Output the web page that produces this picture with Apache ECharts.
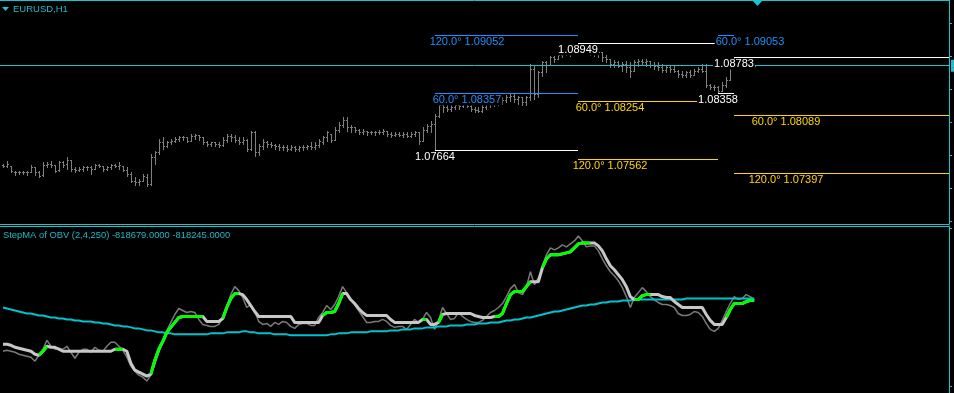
<!DOCTYPE html>
<html><head><meta charset="utf-8">
<script src="https://cdn.jsdelivr.net/npm/echarts@6/dist/echarts.min.js"></script>
<style>html,body{margin:0;padding:0;background:#000;overflow:hidden}#c{width:954px;height:393px}</style>
</head><body><div id="c"></div><script>
const symbolTitle = 'EURUSD,H1';
const indicatorTitle = 'StepMA of OBV (2,4,250) -818679.0000 -818245.0000';

const barOpen = [
1.0749,1.0748,1.0748,1.0741,1.0740,1.0741,1.0740,1.0741,1.0747,1.0740,
1.0737,1.0749,1.0750,1.0749,1.0743,1.0752,1.0750,1.0755,1.0744,1.0743,
1.0744,1.0746,1.0747,1.0744,1.0749,1.0748,1.0744,1.0747,1.0749,1.0748,
1.0748,1.0743,1.0738,1.0730,1.0728,1.0730,1.0735,1.0726,1.0759,1.0764,
1.0777,1.0772,1.0776,1.0778,1.0780,1.0782,1.0783,1.0778,1.0784,1.0785,
1.0782,1.0777,1.0774,1.0776,1.0774,1.0773,1.0779,1.0784,1.0782,1.0779,
1.0777,1.0779,1.0768,1.0788,1.0764,1.0772,1.0777,1.0774,1.0773,1.0772,
1.0770,1.0771,1.0768,1.0771,1.0768,1.0770,1.0771,1.0772,1.0771,1.0773,
1.0777,1.0782,1.0786,1.0779,1.0791,1.0797,1.0803,1.0794,1.0795,1.0791,
1.0789,1.0790,1.0788,1.0789,1.0788,1.0789,1.0790,1.0786,1.0785,1.0786,
1.0785,1.0786,1.0784,1.0786,1.0788,1.0778,1.0791,1.0796,1.0798,1.0808,
1.0821,1.0819,1.0816,1.0819,1.0821,1.0820,1.0822,1.0820,1.0816,1.0815,
1.0814,1.0818,1.0822,1.0824,1.0825,1.0826,1.0827,1.0831,1.0832,1.0828,
1.0830,1.0825,1.0830,1.0864,1.0834,1.0860,1.0872,1.0869,1.0878,1.0876,
1.0881,1.0884,1.0886,1.0884,1.0887,1.0891,1.0888,1.0886,1.0887,1.0882,
1.0885,1.0878,1.0876,1.0870,1.0873,1.0868,1.0870,1.0866,1.0862,1.0872,
1.0874,1.0872,1.0874,1.0869,1.0868,1.0867,1.0863,1.0867,1.0864,1.0862,
1.0858,1.0857,1.0860,1.0857,1.0862,1.0864,1.0862,1.0845,1.0843,1.0842,
1.0838,1.0845,1.0851,1.0872,1.0874,1.0870,1.0872,1.0869,1.0870];
const barHigh = [
1.0750,1.0754,1.0748,1.0742,1.0742,1.0742,1.0742,1.0749,1.0747,1.0742,
1.0752,1.0753,1.0754,1.0749,1.0754,1.0754,1.0758,1.0755,1.0747,1.0747,
1.0748,1.0748,1.0748,1.0750,1.0750,1.0748,1.0748,1.0750,1.0750,1.0752,
1.0748,1.0746,1.0740,1.0734,1.0732,1.0738,1.0738,1.0762,1.0766,1.0780,
1.0782,1.0778,1.0780,1.0783,1.0784,1.0784,1.0783,1.0786,1.0786,1.0785,
1.0782,1.0778,1.0777,1.0777,1.0777,1.0782,1.0786,1.0786,1.0785,1.0782,
1.0782,1.0780,1.0790,1.0790,1.0774,1.0780,1.0778,1.0777,1.0774,1.0774,
1.0773,1.0773,1.0773,1.0772,1.0772,1.0773,1.0773,1.0776,1.0776,1.0780,
1.0784,1.0790,1.0786,1.0794,1.0800,1.0806,1.0806,1.0797,1.0795,1.0792,
1.0792,1.0790,1.0790,1.0790,1.0791,1.0792,1.0790,1.0788,1.0788,1.0789,
1.0788,1.0789,1.0789,1.0790,1.0788,1.0794,1.0798,1.0802,1.0810,1.0824,
1.0826,1.0824,1.0821,1.0824,1.0824,1.0824,1.0825,1.0821,1.0819,1.0819,
1.0821,1.0825,1.0826,1.0827,1.0828,1.0830,1.0833,1.0834,1.0834,1.0832,
1.0831,1.0832,1.0870,1.0869,1.0862,1.0874,1.0874,1.0880,1.0880,1.0884,
1.0886,1.0890,1.0888,1.0890,1.08949,1.0892,1.0891,1.0890,1.0890,1.0887,
1.0885,1.0881,1.0876,1.0875,1.0874,1.0873,1.0874,1.0872,1.0875,1.0876,
1.0876,1.0876,1.0874,1.0872,1.0872,1.0870,1.0869,1.0869,1.0868,1.0863,
1.0862,1.0862,1.0863,1.0864,1.0867,1.0870,1.0870,1.0846,1.0845,1.0844,
1.0848,1.0854,1.0874,1.08783,1.0875,1.0874,1.0875,1.0873,1.0873];
const barLow = [
1.0747,1.0746,1.0741,1.0737,1.0738,1.0738,1.0737,1.0740,1.0737,1.0735,
1.0736,1.0746,1.0747,1.0740,1.0742,1.0747,1.0744,1.0742,1.0741,1.0742,
1.0742,1.0743,1.0738,1.0744,1.0746,1.0742,1.0743,1.0744,1.0746,1.0744,
1.0742,1.0736,1.0728,1.0725,1.0725,1.0730,1.0724,1.0725,1.0750,1.0762,
1.0768,1.0770,1.0774,1.0777,1.0778,1.0779,1.0776,1.0778,1.0780,1.0779,
1.0774,1.0772,1.0772,1.0772,1.0771,1.0772,1.0777,1.0778,1.0777,1.0774,
1.0774,1.0766,1.0767,1.0760,1.0761,1.0768,1.0770,1.0771,1.0768,1.0767,
1.0767,1.0766,1.0767,1.0766,1.0766,1.0767,1.0768,1.0768,1.0768,1.0770,
1.0774,1.0778,1.0776,1.0779,1.0788,1.0794,1.0790,1.0788,1.0789,1.0786,
1.0786,1.0785,1.0786,1.0785,1.0786,1.0786,1.0784,1.0783,1.0784,1.0784,
1.0783,1.0783,1.0783,1.0784,1.0774,1.0778,1.0789,1.0789,1.07664,1.0806,
1.0812,1.0814,1.0814,1.0816,1.0816,1.0818,1.0818,1.0814,1.0813,1.0812,
1.0813,1.0816,1.0819,1.0820,1.0821,1.0822,1.0824,1.0826,1.0825,1.0822,
1.0821,1.0821,1.0827,1.0828,1.0830,1.0856,1.0860,1.0869,1.0872,1.0876,
1.0878,1.0881,1.0880,1.0882,1.0884,1.0885,1.0882,1.0881,1.0880,1.0879,
1.0874,1.0872,1.0867,1.0866,1.0866,1.0862,1.0860,1.0854,1.0862,1.0868,
1.0869,1.0868,1.0867,1.0864,1.0863,1.0861,1.0860,1.0861,1.0860,1.0855,
1.0854,1.0855,1.0855,1.0857,1.0860,1.0860,1.0842,1.0840,1.0839,1.08358,
1.0838,1.0843,1.0851,1.0868,1.0867,1.0866,1.0867,1.0866,1.0867];
const barClose = [
1.0748,1.0750,1.0742,1.0740,1.0741,1.0740,1.0741,1.0747,1.0740,1.0736,
1.0749,1.0750,1.0749,1.0742,1.0752,1.0749,1.0755,1.0744,1.0743,1.0744,
1.0746,1.0747,1.0744,1.0749,1.0748,1.0744,1.0747,1.0749,1.0748,1.0749,
1.0743,1.0738,1.0730,1.0728,1.0730,1.0736,1.0726,1.0759,1.0764,1.0777,
1.0772,1.0776,1.0778,1.0780,1.0782,1.0783,1.0778,1.0784,1.0785,1.0782,
1.0777,1.0774,1.0776,1.0774,1.0773,1.0779,1.0784,1.0782,1.0779,1.0777,
1.0779,1.0768,1.0788,1.0764,1.0772,1.0777,1.0774,1.0773,1.0772,1.0770,
1.0771,1.0768,1.0771,1.0768,1.0770,1.0771,1.0772,1.0771,1.0773,1.0778,
1.0782,1.0788,1.0779,1.0791,1.0797,1.0803,1.0794,1.0795,1.0791,1.0789,
1.0790,1.0788,1.0789,1.0788,1.0789,1.0790,1.0786,1.0785,1.0786,1.0785,
1.0786,1.0784,1.0786,1.0788,1.0778,1.0791,1.0796,1.0798,1.0808,1.0821,
1.0819,1.0816,1.0819,1.0821,1.0820,1.0822,1.0820,1.0816,1.0815,1.0814,
1.0818,1.0822,1.0824,1.0825,1.0826,1.0827,1.0831,1.0832,1.0828,1.0830,
1.0825,1.0830,1.0864,1.0834,1.0860,1.0872,1.0869,1.0878,1.0876,1.0881,
1.0884,1.0886,1.0884,1.0887,1.0891,1.0888,1.0886,1.0887,1.0882,1.0885,
1.0878,1.0876,1.0870,1.0873,1.0868,1.0870,1.0866,1.0862,1.0872,1.0874,
1.0872,1.0874,1.0869,1.0868,1.0867,1.0863,1.0867,1.0864,1.0862,1.0858,
1.0857,1.0860,1.0857,1.0862,1.0864,1.0862,1.0845,1.0843,1.0842,1.0838,
1.0845,1.0851,1.0872,1.0874,1.0870,1.0872,1.0869,1.0870,1.0868];

const levelPrice  = [1.09052,1.08357,1.07664,1.08949,1.08254,1.07562,1.08358,1.09053,1.08783,1.08089,1.07397];
const levelFrom   = [108,108,108,144,144,144,179,179,183,183,183];
const levelTo     = [144,144,144,179,179,179,183,183,null,null,null];
const levelKind   = ['up','up','pivot','pivot','down','down','pivot','up','pivot','down','down'];
const levelText   = ['120.0\u00b0 1.09052','60.0\u00b0 1.08357','1.07664','1.08949','60.0\u00b0 1.08254','120.0\u00b0 1.07562','1.08358','60.0\u00b0 1.09053','1.08783','60.0\u00b0 1.08089','120.0\u00b0 1.07397'];
const levelTextAt = [116,116,108,144,152,152,179,187,183,196,196];

const priceTicks = [1.0919,1.0879,1.0840,1.0800,1.0760,1.0721,1.0681];
const obvTicks = [-804200,-836000];

const obvRaw = [
-828900,-828700,-828900,-829100,-829500,-829700,-829900,-830100,-830900,-829700,
-828500,-826700,-827900,-828500,-828300,-828500,-827900,-829100,-830300,-829100,
-828500,-828500,-829100,-828100,-828700,-828900,-827900,-827100,-827100,-827900,
-828700,-830100,-831900,-832900,-833700,-834100,-834900,-833700,-831500,-829100,
-826900,-824700,-823100,-821500,-820300,-820700,-821100,-820900,-821100,-822500,
-823500,-823700,-823900,-823900,-823500,-822100,-820100,-817500,-815900,-816700,
-818100,-820100,-819500,-820900,-822900,-823500,-823300,-823900,-823100,-823500,
-822900,-823100,-823900,-824300,-823500,-823300,-823300,-823700,-823700,-822100,
-821100,-819700,-820500,-819500,-817900,-815900,-817100,-818500,-819500,-820700,
-821900,-823100,-823100,-822900,-822900,-822500,-822900,-823700,-824100,-823900,
-823900,-824500,-823500,-822500,-823100,-822500,-821100,-822100,-824500,-822700,
-820100,-821300,-822500,-822300,-821100,-821900,-822500,-822900,-823100,-823100,
-822700,-821900,-821100,-820700,-820100,-819300,-817900,-816300,-815500,-817100,
-817500,-815900,-812900,-815500,-814100,-811700,-809500,-808100,-808500,-808100,
-807500,-807900,-807300,-806700,-805700,-806700,-807900,-807700,-807700,-808700,
-810300,-811700,-812900,-813700,-814700,-816100,-817900,-820100,-818100,-817100,
-816100,-816900,-817900,-818500,-819100,-819500,-819500,-819700,-820100,-821300,
-821700,-821700,-821500,-820900,-821100,-821900,-823300,-824500,-824900,-824300,
-822700,-820900,-819300,-817900,-818500,-818300,-817500,-817900,-818500];
const obvStep = [
-827500,-827500,-827700,-828100,-828300,-828500,-828700,-828900,-829500,-829700,
-828900,-827900,-828100,-828100,-828500,-828900,-828900,-828900,-828900,-828900,
-828900,-828900,-828900,-828900,-828900,-828900,-828900,-828900,-828500,-828500,
-828500,-828900,-831300,-832700,-833100,-833500,-833900,-833500,-830700,-828500,
-826900,-825100,-824100,-823100,-822100,-821900,-821900,-821900,-821900,-821900,
-821900,-822900,-822900,-822900,-822900,-822300,-820100,-818300,-817300,-817300,
-817500,-818500,-819700,-820900,-821900,-821900,-821900,-821900,-821900,-821900,
-821900,-821900,-821900,-823100,-823100,-823100,-823100,-823100,-823100,-823100,
-821700,-821100,-821100,-820900,-819300,-817300,-817300,-818500,-819300,-820300,
-821100,-821700,-821700,-821700,-821700,-821700,-821700,-822500,-823100,-823100,
-823100,-823100,-823100,-823100,-823100,-822500,-822500,-823500,-823500,-823100,
-821500,-821300,-821300,-821300,-821300,-821300,-821300,-821300,-821700,-821900,
-822100,-822100,-822100,-821900,-821900,-821300,-819300,-817500,-816900,-816900,
-816900,-815900,-814900,-814900,-814900,-812100,-810300,-809500,-809500,-809500,
-809300,-809100,-808900,-808100,-807300,-807100,-807100,-807100,-807100,-807700,
-808700,-810300,-811700,-812500,-813500,-814500,-815900,-817900,-818500,-818500,
-817700,-817500,-817500,-817500,-817500,-817900,-818100,-818100,-818900,-819500,
-820100,-820100,-820100,-820100,-820100,-820100,-821500,-822700,-823500,-823500,
-823500,-822100,-820500,-819300,-819300,-819300,-818900,-818700,-818700];
const stepUp = [
0,0,0,0,0,0,0,0,0,1, 1,1,0,0,0,0,0,0,0,0, 0,0,0,0,0,0,0,0,1,1, 1,0,0,0,0,0,0,1,1,1,
1,1,1,1,1,1,1,1,1,1, 1,0,0,0,0,1,1,1,1,1, 0,0,0,0,0,0,0,0,0,0, 0,0,0,0,0,0,0,0,0,0,
1,1,1,1,1,1,0,0,0,0, 0,0,0,0,0,0,0,0,0,0, 0,0,0,0,0,1,1,0,0,1, 1,0,0,0,0,0,0,0,0,0,
0,0,0,1,1,1,1,1,1,1, 1,1,1,0,0,1,1,1,1,1, 1,1,1,1,1,1,1,1,0,0, 0,0,0,0,0,0,0,0,1,1,
1,1,1,0,0,0,0,0,0,0, 0,0,0,0,0,0,0,0,0,0, 0,1,1,1,1,1,1,1,1];
const obvMA = [
-820100,-820300,-820500,-820700,-820900,-821100,-821300,-821300,-821500,-821700,
-821700,-821900,-822100,-822100,-822300,-822300,-822500,-822500,-822700,-822700,
-822900,-822900,-822900,-823100,-823100,-823300,-823300,-823500,-823700,-823700,
-823900,-823900,-824100,-824300,-824300,-824500,-824700,-824700,-824900,-825100,
-825100,-825300,-825300,-825500,-825500,-825500,-825500,-825500,-825500,-825500,
-825500,-825500,-825300,-825300,-825300,-825300,-825100,-825100,-825100,-825100,
-824900,-824900,-825100,-825100,-825300,-825300,-825300,-825300,-825500,-825500,
-825500,-825500,-825700,-825700,-825700,-825700,-825700,-825700,-825700,-825700,
-825700,-825700,-825500,-825500,-825300,-825300,-825300,-825100,-825100,-825100,
-825100,-825100,-824900,-824900,-824900,-824900,-824900,-824700,-824700,-824700,
-824500,-824500,-824500,-824300,-824300,-824300,-824100,-824100,-824100,-823900,
-823900,-823900,-823700,-823700,-823700,-823700,-823500,-823500,-823500,-823300,
-823300,-823300,-823100,-823100,-823100,-822900,-822700,-822700,-822500,-822500,
-822300,-822100,-822100,-821900,-821700,-821500,-821300,-821100,-820900,-820900,
-820700,-820500,-820300,-820100,-819900,-819700,-819700,-819500,-819500,-819300,
-819100,-819100,-818900,-818900,-818900,-818700,-818700,-818700,-818500,-818500,
-818500,-818500,-818500,-818500,-818500,-818500,-818500,-818500,-818500,-818500,
-818500,-818300,-818300,-818300,-818300,-818300,-818300,-818300,-818300,-818300,
-818300,-818300,-818300,-818300,-818300,-818300,-818300,-818300,-818300];

const CY = '#18c4ce';
const BAR = '#808080';
const KIND_COLOR = {up:'#1e90ff', pivot:'#ffffff', down:'#ffd700'};
const FONT = '"Liberation Sans", Arial, sans-serif';
const X_MIN = -0.75, X_MAX = 236.75;

const bars = barOpen.map((o, i) => [i, o, barHigh[i], barLow[i], barClose[i]]);
const levelRows = levelPrice.map((p, k) => [levelFrom[k], levelTo[k] == null ? X_MAX : levelTo[k], p, k]);
const labelRows = levelPrice.map((p, k) => [levelTextAt[k], p, k]);
const lastIndex = barClose.length - 1;
const lastClose = barClose[lastIndex];
const greenData = obvStep.map((v, i) => stepUp[i] ? [i, v] : [i, '-']);

function renderBar(params, api) {
  const i = api.value(0);
  const pO = api.coord([i, api.value(1)]);
  const pH = api.coord([i, api.value(2)]);
  const pL = api.coord([i, api.value(3)]);
  const pC = api.coord([i, api.value(4)]);
  const x = Math.round(pH[0]);
  const yH = Math.round(pH[1]), yL = Math.round(pL[1]);
  return {type: 'group', children: [
    {type: 'rect', shape: {x: x, y: yH, width: 1, height: Math.max(1, yL - yH + 1)}, style: {fill: BAR}},
    {type: 'rect', shape: {x: x - 1, y: Math.round(pO[1]), width: 1, height: 1}, style: {fill: BAR}},
    {type: 'rect', shape: {x: x + 1, y: Math.round(pC[1]), width: 1, height: 1}, style: {fill: BAR}}
  ]};
}
function renderLevel(params, api) {
  const k = api.value(3);
  const p1 = api.coord([api.value(0), api.value(2)]);
  const p2 = api.coord([api.value(1), api.value(2)]);
  const x1 = Math.round(p1[0]), x2 = Math.round(p2[0]);
  return {type: 'rect', shape: {x: x1, y: Math.round(p1[1]), width: x2 - x1, height: 1},
    style: {fill: KIND_COLOR[levelKind[k]]}};
}
function renderLabel(params, api) {
  const k = api.value(2);
  const p = api.coord([api.value(0), api.value(1)]);
  return {type: 'text', x: Math.round(p[0]), y: Math.round(p[1]) + 7,
    style: {text: levelText[k], fill: KIND_COLOR[levelKind[k]], font: '11px ' + FONT,
      align: 'center', verticalAlign: 'middle', backgroundColor: '#000', padding: [0, 1]}};
}

const hiddenX = (grid, pos) => ({type: 'value', gridIndex: grid, min: X_MIN, max: X_MAX, position: pos,
  axisLine: {show: true, onZero: false, lineStyle: {color: CY, width: 1}},
  axisTick: {show: false}, axisLabel: {show: false}, splitLine: {show: false}});

const chart = echarts.init(document.getElementById('c'), null, {renderer: 'canvas'});
chart.setOption({
  backgroundColor: '#000',
  animation: false,
  grid: [
    {left: -1, top: 0, width: 950, height: 224},
    {left: -1, top: 226, width: 950, height: 168}
  ],
  xAxis: [hiddenX(0, 'top'), hiddenX(0, 'bottom'), hiddenX(1, 'top')],
  yAxis: [
    {type: 'value', gridIndex: 0, min: 1.0678, max: 1.09468, position: 'right',
      axisLine: {show: true, onZero: false, lineStyle: {color: CY}},
      axisTick: {show: true, inside: false, length: 3, customValues: priceTicks, lineStyle: {color: CY}},
      axisLabel: {show: false}, splitLine: {show: false}},
    {type: 'value', gridIndex: 1, min: -837300, max: -803700, position: 'right',
      axisLine: {show: true, onZero: false, lineStyle: {color: CY}},
      axisTick: {show: true, inside: false, length: 3, customValues: obvTicks, lineStyle: {color: CY}},
      axisLabel: {show: false}, splitLine: {show: false}}
  ],
  graphic: [
    {type: 'polygon', shape: {points: [[2, 7], [9, 7], [5.5, 11]]}, style: {fill: CY}},
    {type: 'text', x: 13, y: 9, style: {text: symbolTitle, fill: '#20bcc4', font: '9.5px ' + FONT, verticalAlign: 'middle'}},
    {type: 'polygon', shape: {points: [[752, 0], [763, 0], [757.5, 6]]}, style: {fill: CY}},
    {type: 'text', x: 3, y: 235.5, style: {text: indicatorTitle, fill: '#1ab8c8', font: '9.4px ' + FONT, verticalAlign: 'middle'}}
  ],
  series: [
    {type: 'line', name: 'bid', xAxisIndex: 0, yAxisIndex: 0, z: 1, symbol: 'none', silent: true,
      data: [[lastIndex, lastClose]], lineStyle: {width: 0},
      markLine: {silent: true, symbol: 'none', animation: false, precision: 5,
        data: [{yAxis: lastClose}],
        lineStyle: {color: CY, width: 1, type: 'solid'},
        label: {show: true, position: 'end', distance: 2, formatter: lastClose.toFixed(5),
          backgroundColor: CY, color: '#000', fontSize: 10, padding: [1, 2]}}},
    {type: 'custom', name: 'bars', xAxisIndex: 0, yAxisIndex: 0, z: 2, data: bars, renderItem: renderBar},
    {type: 'custom', name: 'levels', xAxisIndex: 0, yAxisIndex: 0, z: 3, data: levelRows, renderItem: renderLevel},
    {type: 'custom', name: 'labels', xAxisIndex: 0, yAxisIndex: 0, z: 5, data: labelRows, renderItem: renderLabel},
    {type: 'line', name: 'OBV', xAxisIndex: 2, yAxisIndex: 1, z: 2, symbol: 'none',
      data: obvRaw.map((v, i) => [i, v]), lineStyle: {color: '#7a7a7a', width: 1.5}},
    {type: 'line', name: 'MA250', xAxisIndex: 2, yAxisIndex: 1, z: 3, symbol: 'none',
      data: obvMA.map((v, i) => [i, v]), lineStyle: {color: '#00c3cd', width: 2}},
    {type: 'line', name: 'StepMA', xAxisIndex: 2, yAxisIndex: 1, z: 4, symbol: 'none',
      data: obvStep.map((v, i) => [i, v]), lineStyle: {color: '#c8c8c8', width: 3}},
    {type: 'line', name: 'StepMA up', xAxisIndex: 2, yAxisIndex: 1, z: 5, symbol: 'none', connectNulls: false,
      data: greenData, lineStyle: {color: '#00ff00', width: 3}}
  ]
});
</script></body></html>
